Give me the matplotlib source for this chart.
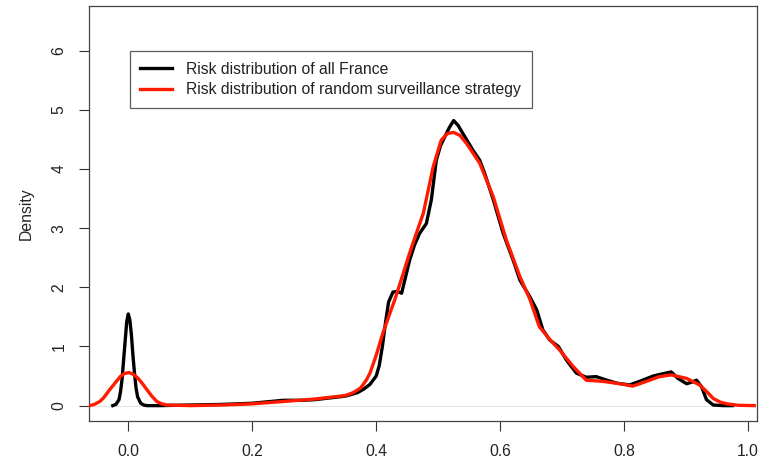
import matplotlib
matplotlib.use("Agg")
import matplotlib.pyplot as plt

plt.rcParams['font.family'] = ['Liberation Sans', 'DejaVu Sans']

# Black curve: risk distribution of all France
france_x = [-0.025, -0.02, -0.015, -0.0125, -0.01, -0.0075, -0.005, -0.0025, 0.0,
            0.0025, 0.005, 0.0075, 0.01, 0.0125, 0.015, 0.02,
            0.025, 0.03, 0.05, 0.1, 0.15, 0.2, 0.25, 0.28, 0.3, 0.35, 0.37, 0.38,
            0.39, 0.40, 0.405, 0.41, 0.415, 0.42, 0.427, 0.434, 0.441, 0.448,
            0.454, 0.462, 0.47, 0.481, 0.489, 0.497, 0.504, 0.511, 0.518, 0.525,
            0.532, 0.54, 0.556, 0.567, 0.575, 0.589,
            0.605, 0.621, 0.632, 0.648, 0.659, 0.669, 0.68, 0.694, 0.707, 0.723,
            0.739, 0.755, 0.772, 0.788, 0.809, 0.825, 0.847, 0.863, 0.876, 0.887,
            0.901, 0.91, 0.917, 0.925, 0.933, 0.944, 0.96, 0.975]
france_y = [0.0, 0.02, 0.1, 0.24, 0.45, 0.78, 1.1, 1.42, 1.55,
            1.45, 1.2, 0.85, 0.55, 0.3, 0.15, 0.04,
            0.01, 0.0, 0.0, 0.01, 0.02, 0.04, 0.09, 0.09, 0.1, 0.16, 0.22, 0.28,
            0.36, 0.5, 0.68, 1.0, 1.4, 1.75, 1.92, 1.93, 1.9, 2.2,
            2.46, 2.72, 2.91, 3.08, 3.48, 4.15, 4.4, 4.55, 4.7, 4.82,
            4.74, 4.6, 4.32, 4.15, 3.93, 3.48,
            2.91, 2.46, 2.12, 1.84, 1.62, 1.28, 1.11, 1.0, 0.77, 0.55,
            0.48, 0.49, 0.43, 0.38, 0.35, 0.41, 0.5, 0.54, 0.57, 0.46,
            0.37, 0.4, 0.43, 0.32, 0.1, 0.01, 0.0, 0.0]

# Red curve: risk distribution of random surveillance strategy
random_x = [-0.062, -0.055, -0.046, -0.04, -0.03, -0.02, -0.013, -0.007, 0.001,
            0.008, 0.016, 0.023, 0.03, 0.038, 0.046, 0.054, 0.062, 0.1,
            0.15, 0.2, 0.25, 0.3, 0.35, 0.363, 0.375, 0.384, 0.39, 0.395, 0.40,
            0.41, 0.42, 0.43, 0.442, 0.454, 0.465, 0.476, 0.492, 0.505, 0.515,
            0.525, 0.535, 0.546, 0.567, 0.589, 0.61, 0.632, 0.648,
            0.663, 0.68, 0.696, 0.718, 0.739, 0.766, 0.793, 0.814, 0.836, 0.857,
            0.876, 0.901, 0.922, 0.934, 0.944, 0.955, 0.966, 0.985, 1.01]
random_y = [0.0, 0.02, 0.07, 0.13, 0.27, 0.4, 0.49, 0.54, 0.56,
            0.53, 0.46, 0.37, 0.27, 0.16, 0.07, 0.03, 0.01, 0.0,
            0.01, 0.03, 0.07, 0.11, 0.17, 0.22, 0.3, 0.43, 0.55, 0.7, 0.85,
            1.2, 1.5, 1.79, 2.18, 2.58, 2.92, 3.25, 4.04, 4.49, 4.6,
            4.62, 4.57, 4.43, 4.1, 3.53, 2.8, 2.18, 1.8,
            1.34, 1.12, 0.94, 0.66, 0.43, 0.41, 0.37, 0.33, 0.41, 0.49,
            0.52, 0.46, 0.35, 0.23, 0.12, 0.06, 0.03, 0.005, 0.0]

x_ticks = [0.0, 0.2, 0.4, 0.6, 0.8, 1.0]
x_tick_labels = ["0.0", "0.2", "0.4", "0.6", "0.8", "1.0"]
y_ticks = [0, 1, 2, 3, 4, 5, 6]
y_tick_labels = ["0", "1", "2", "3", "4", "5", "6"]
legend_labels = ["Risk distribution of all France",
                 "Risk distribution of random surveillance strategy"]

FS = 11.3
W, H = 763, 462
fig = plt.figure(figsize=(W / 100, H / 100), dpi=100)
ax = fig.add_axes([89 / W, 1 - 421 / H, (757 - 89) / W, (421 - 6) / H])

ax.axhline(0, color="#dddddd", lw=0.6, zorder=1)
l1, = ax.plot(france_x, france_y, color="black", lw=2.4, solid_joinstyle="round", zorder=2)
l2, = ax.plot(random_x, random_y, color="#ff1a00", lw=2.4, solid_joinstyle="round", zorder=3)

ax.set_xlim(-0.0634, 1.0145)
ax.set_ylim(-0.26, 6.757)

ax.set_xticks(x_ticks)
ax.set_xticklabels(x_tick_labels)
ax.set_yticks(y_ticks)
ax.set_yticklabels(y_tick_labels, rotation=90, va="center")
ax.tick_params(axis="both", direction="out", length=7.2, width=0.8, color="#333333",
               labelsize=FS, labelcolor="#222222")
ax.tick_params(axis="x", pad=9)
ax.tick_params(axis="y", pad=9)
for s in ax.spines.values():
    s.set_color("#444444")
    s.set_linewidth(0.9)

ax.set_ylabel("Density", fontsize=FS, color="#222222", labelpad=13)

leg = ax.legend([l1, l2], legend_labels, loc="upper left",
                bbox_to_anchor=((129.5 - 89) / (757 - 89), 1 - (51 - 6) / (421 - 6)),
                borderaxespad=0, frameon=True, fancybox=False, fontsize=FS,
                handlelength=2.0, handletextpad=0.9, borderpad=0.7,
                labelspacing=0.32)
leg.get_frame().set_edgecolor("#333333")
leg.get_frame().set_linewidth(0.9)
for t in leg.get_texts():
    t.set_color("#222222")

fig.savefig("out.png", dpi=100)
